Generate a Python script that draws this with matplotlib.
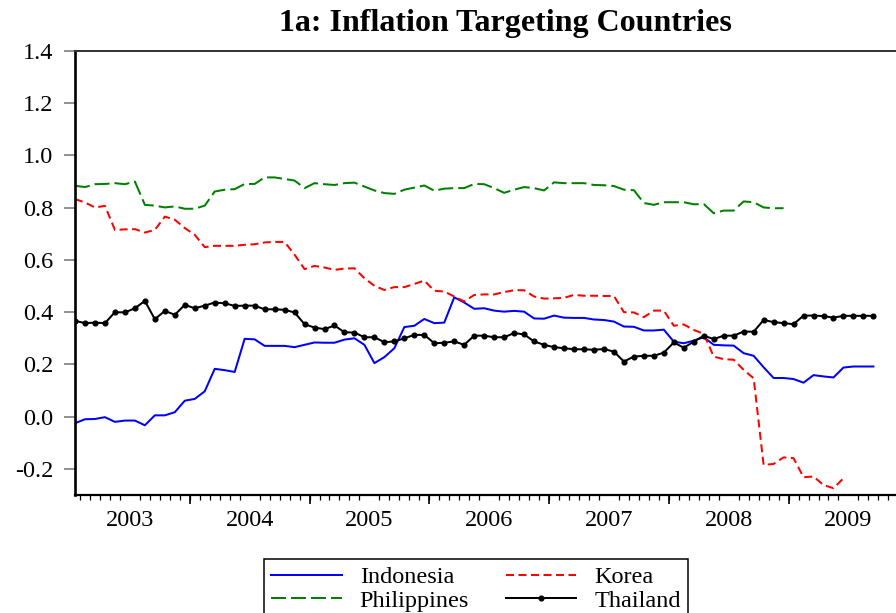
import matplotlib
matplotlib.use("Agg")
import matplotlib.pyplot as plt
import numpy as np

# ---------------- data (monthly, starting Jan 2003) ----------------
years = ["2003", "2004", "2005", "2006", "2007", "2008", "2009"]

indonesia = [-0.025, -0.010, -0.009, -0.002, -0.020, -0.015, -0.015, -0.033, 0.005, 0.005,
             0.017, 0.061, 0.068, 0.097, 0.183, 0.178, 0.171, 0.298, 0.296, 0.271,
             0.271, 0.271, 0.266, 0.275, 0.284, 0.283, 0.283, 0.295, 0.300, 0.275,
             0.205, 0.228, 0.262, 0.343, 0.348, 0.374, 0.358, 0.360, 0.457, 0.437,
             0.413, 0.415, 0.406, 0.402, 0.405, 0.402, 0.376, 0.375, 0.387, 0.379,
             0.378, 0.378, 0.372, 0.370, 0.364, 0.345, 0.344, 0.330, 0.330, 0.333,
             0.287, 0.281, 0.291, 0.304, 0.275, 0.273, 0.272, 0.243, 0.233, 0.189,
             0.148, 0.148, 0.144, 0.130, 0.159, 0.154, 0.150, 0.188, 0.192, 0.192,
             0.192]

korea = [0.833, 0.820, 0.801, 0.807, 0.715, 0.717, 0.718, 0.705, 0.715, 0.766,
         0.754, 0.722, 0.696, 0.649, 0.654, 0.654, 0.654, 0.658, 0.660, 0.667,
         0.669, 0.669, 0.620, 0.565, 0.577, 0.571, 0.562, 0.567, 0.568, 0.530,
         0.501, 0.485, 0.496, 0.496, 0.508, 0.521, 0.482, 0.479, 0.460, 0.441,
         0.466, 0.468, 0.468, 0.477, 0.484, 0.484, 0.460, 0.452, 0.453, 0.455,
         0.466, 0.463, 0.463, 0.462, 0.462, 0.400, 0.399, 0.381, 0.406, 0.406,
         0.348, 0.353, 0.332, 0.317, 0.230, 0.220, 0.218, 0.179, 0.147, -0.185,
         -0.181, -0.156, -0.159, -0.232, -0.229, -0.262, -0.274, -0.236]

philippines = [0.884, 0.879, 0.890, 0.891, 0.894, 0.890, 0.900, 0.811, 0.808, 0.801,
               0.805, 0.796, 0.796, 0.808, 0.862, 0.869, 0.871, 0.891, 0.891, 0.916,
               0.916, 0.910, 0.904, 0.875, 0.894, 0.890, 0.887, 0.894, 0.896, 0.881,
               0.866, 0.856, 0.853, 0.869, 0.877, 0.885, 0.865, 0.873, 0.875, 0.875,
               0.891, 0.890, 0.875, 0.857, 0.869, 0.879, 0.875, 0.866, 0.897, 0.894,
               0.894, 0.894, 0.887, 0.886, 0.883, 0.869, 0.867, 0.818, 0.811, 0.821,
               0.821, 0.821, 0.813, 0.814, 0.779, 0.789, 0.789, 0.824, 0.821, 0.801,
               0.798, 0.798]

thailand = [0.367, 0.358, 0.360, 0.358, 0.400, 0.399, 0.415, 0.443, 0.373, 0.405,
            0.390, 0.428, 0.415, 0.425, 0.437, 0.434, 0.424, 0.425, 0.425, 0.411,
            0.411, 0.409, 0.399, 0.354, 0.341, 0.335, 0.349, 0.323, 0.322, 0.304,
            0.304, 0.285, 0.288, 0.300, 0.313, 0.313, 0.281, 0.283, 0.288, 0.275,
            0.310, 0.310, 0.304, 0.304, 0.320, 0.315, 0.288, 0.275, 0.266, 0.262,
            0.258, 0.258, 0.256, 0.259, 0.249, 0.211, 0.230, 0.233, 0.233, 0.245,
            0.284, 0.264, 0.287, 0.310, 0.297, 0.310, 0.310, 0.326, 0.325, 0.370,
            0.362, 0.358, 0.354, 0.387, 0.387, 0.385, 0.379, 0.386, 0.386, 0.386,
            0.386]

yticks = [-0.2, 0.0, 0.2, 0.4, 0.6, 0.8, 1.0, 1.2, 1.4]
title = "1a: Inflation Targeting Countries"

# ---------------- figure ----------------
SERIF = ["Liberation Serif", "DejaVu Serif"]
plt.rcParams["font.family"] = SERIF

W, H = 896, 613
fig = plt.figure(figsize=(W / 100, H / 100), dpi=100)
xmax = 82.5
px_per_month = 9.98
ax = fig.add_axes([75 / W, (H - 495) / H, xmax * px_per_month / W, 444 / H])


def dash(lw, on_px, off_px):
    # dash lengths given in pixels -> points -> multiples of linewidth
    return (0, (on_px * 0.72 / lw, off_px * 0.72 / lw))


lw = 1.45
l_ind, = ax.plot(np.arange(len(indonesia)), indonesia, color="#0000FF", lw=lw,
                 label="Indonesia")
l_kor, = ax.plot(np.arange(len(korea)), korea, color="#FF0000", lw=lw,
                 linestyle=dash(lw, 8, 4.5), label="Korea")
l_phi, = ax.plot(np.arange(len(philippines)), philippines, color="#008000", lw=lw,
                 linestyle=dash(lw, 15, 5), label="Philippines")
l_tha, = ax.plot(np.arange(len(thailand)), thailand, color="black", lw=lw,
                 marker="o", markersize=3.4, label="Thailand")

ax.set_xlim(0, xmax)
ax.set_ylim(-0.3, 1.4)

# spines
ax.spines["right"].set_visible(False)
ax.spines["left"].set_linewidth(1.9)
ax.spines["bottom"].set_linewidth(1.6)
ax.spines["top"].set_linewidth(1.4)
ax.spines["top"].set_color("#333333")

# y axis
ax.set_yticks(yticks)
ax.set_yticklabels([f"{v:.1f}" for v in yticks])
ax.tick_params(axis="y", direction="out", length=7.7, width=1.3, color="#888888",
               labelsize=17.5, pad=8)

# x axis: labels at year middles, monthly minor ticks
n_years = len(years)
ax.set_xticks([5.5 + 12 * i for i in range(n_years)])
ax.set_xticklabels(years)
ax.set_xticks(np.arange(0.5, xmax, 1.0), minor=True)
ax.tick_params(axis="x", which="major", length=0, pad=11, labelsize=17.5)
ax.tick_params(axis="x", which="minor", direction="out", length=3.8, width=0.9,
               color="black")

# year boundaries: longer ticks
sec = ax.secondary_xaxis("bottom")
sec.set_xticks([11.5 + 12 * i for i in range(n_years - 1)])
sec.set_xticklabels([])
sec.tick_params(axis="x", direction="out", length=6.8, width=1.2, color="black")
sec.spines["bottom"].set_visible(False)

# title
fig.text(505 / W, 1 - 23 / H, title, ha="center", va="center", fontsize=23,
         fontweight="bold")

# legend
leg = fig.legend([l_ind, l_phi, l_kor, l_tha],
                 ["Indonesia", "Philippines", "Korea", "Thailand"],
                 ncol=2, loc="upper left", bbox_to_anchor=(264 / W, 1 - 559 / H),
                 bbox_transform=fig.transFigure, borderaxespad=0,
                 frameon=True, fancybox=False, framealpha=1, edgecolor="black",
                 fontsize=17.5, handlelength=2.9, handletextpad=0.74,
                 columnspacing=1.5, borderpad=0.3, labelspacing=0.05)
leg.get_frame().set_linewidth(1.1)

fig.savefig("out.png", dpi=100)
